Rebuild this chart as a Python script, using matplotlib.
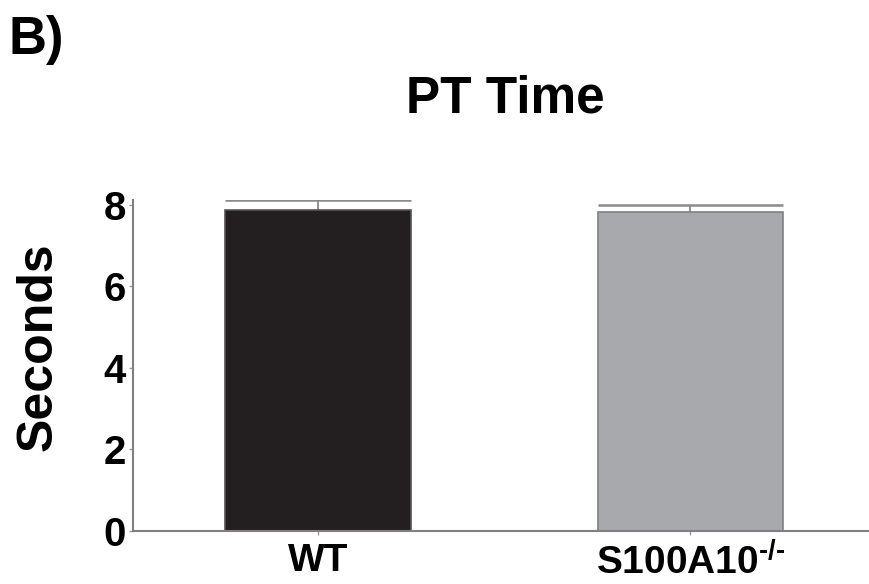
import matplotlib
matplotlib.use('Agg')
import matplotlib.pyplot as plt

plt.rcParams['font.family'] = ['Liberation Sans', 'DejaVu Sans']
plt.rcParams['font.weight'] = 'bold'
plt.rcParams['mathtext.fontset'] = 'custom'
plt.rcParams['mathtext.rm'] = 'Liberation Sans:bold'
plt.rcParams['mathtext.default'] = 'rm'

##### data #####
groups = ['WT', r'S100A10$^{\text{-/-}}$']
means = [7.88, 7.83]
errors = [0.24, 0.17]
bar_colors = ['#231f20', '#a7a9ac']
edge_colors = ['#555555', '#7f8083']
yticks = [0, 2, 4, 6, 8]

fig = plt.figure(figsize=(8.69, 5.84), dpi=100)
ax = fig.add_axes([0.153, 0.091, 0.847, 0.567])

w = 0.497
x = list(range(len(groups)))
tops = [m + e for m, e in zip(means, errors)]
ax.bar(x, means, width=w, color=bar_colors, edgecolor=edge_colors, linewidth=1.2, zorder=2)
# upper error only, cap as wide as the bar
ax.vlines(x, means, tops, color='#8a8a8a', linewidth=1.3, zorder=1)
ax.hlines(tops, [i - w / 2 for i in x], [i + w / 2 for i in x], color='#8a8a8a', linewidth=1.8, zorder=1)

ax.set_xlim(-0.497, 1.48)
ax.set_ylim(0, 8.12)
ax.set_yticks(yticks)
ax.set_xticks(x)
ax.set_xticklabels(groups, fontsize=28, fontweight='bold')
ax.tick_params(axis='y', labelsize=29, length=3, width=1, color='#999999', pad=2)
ax.tick_params(axis='x', length=3, width=1, color='#999999', pad=6)

for s in ['top', 'right']:
    ax.spines[s].set_visible(False)
for s in ['left', 'bottom']:
    ax.spines[s].set_color('#808080')
    ax.spines[s].set_linewidth(1.5)

ax.set_ylabel('Seconds', fontsize=36, fontweight='bold')
ax.yaxis.set_label_coords(-0.097, 0.555)
fig.text(0.581, 0.83, 'PT Time', fontsize=37, fontweight='bold', ha='center', va='center')
fig.text(0.01, 0.932, 'B)', fontsize=38, fontweight='bold', ha='left', va='center')

fig.savefig('out.png', dpi=100)
